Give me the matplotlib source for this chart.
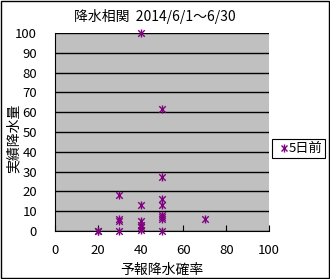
import numpy as np
import matplotlib
matplotlib.use('Agg')
import matplotlib.pyplot as plt

plt.rcParams['font.family'] = ['Noto Sans CJK JP', 'DejaVu Sans']

# forecast probability of precipitation (%) vs actual precipitation (mm)
prob = [40, 50, 50, 30, 40, 50, 50, 30, 30, 40, 40, 40, 40, 50, 50, 50, 70, 20, 20, 30, 50]
rain = [100, 61.5, 27.5, 18, 13, 16, 13, 6, 5, 5, 3, 2, 0.5, 8, 7, 6, 6, 0, 0, 0, 0]
series_name = '5日前'
title = '降水相関  2014/6/1～6/30'
purple = '#800080'

fig = plt.figure(figsize=(3.3, 2.79), dpi=100)
ax = fig.add_axes([55/330, 1-231/279, 214/330, 198/279])
ax.set_facecolor('#C0C0C0')

ax.scatter(prob, rain, marker='x', s=22, color=purple, linewidths=1.0, zorder=3, clip_on=False)
ax.scatter(prob, rain, marker='|', s=26, color=purple, linewidths=1.0, zorder=3, clip_on=False)

ax.set_xlim(0, 100)
ax.set_ylim(0, 100)
ax.set_xticks(range(0, 101, 20))
ax.set_yticks(range(0, 101, 10))
ax.yaxis.grid(True, color='black', linewidth=1)
ax.set_axisbelow(True)
for s in ax.spines.values():
    s.set_color('black')
    s.set_linewidth(0.8)
ax.spines['top'].set_visible(False)
ax.spines['right'].set_visible(False)
ax.tick_params(axis='x', direction='in', length=4, labelsize=9.5, pad=9, colors='black')
ax.tick_params(axis='y', direction='out', length=0, labelsize=9.5, pad=13)

ax.set_xlabel('予報降水確率', fontsize=10, labelpad=5)
fig.text(14/330, 1-138/279, '実績降水量', rotation=90, ha='center', va='center', fontsize=10)
fig.text(155/330, 1-17/279, title, ha='center', va='center', fontsize=10)

# legend box
fig.patches.append(plt.Rectangle((272/330, 1-158/279), 53/330, 19/279, transform=fig.transFigure,
                                 fill=False, edgecolor='black', linewidth=0.8))
fig.lines.append(plt.Line2D([284/330], [1-148/279], transform=fig.transFigure, marker='x',
                            markersize=5, color=purple, markeredgewidth=1.0))
fig.lines.append(plt.Line2D([284/330], [1-148/279], transform=fig.transFigure, marker='|',
                            markersize=6, color=purple, markeredgewidth=1.0))
fig.text(289/330, 1-148/279, series_name, ha='left', va='center', fontsize=9.5)

# outer border
fig.patches.append(plt.Rectangle((0.002, 0.002), 0.995, 0.995, transform=fig.transFigure,
                                 fill=False, edgecolor='black', linewidth=1))

fig.savefig('out.png', dpi=100)
